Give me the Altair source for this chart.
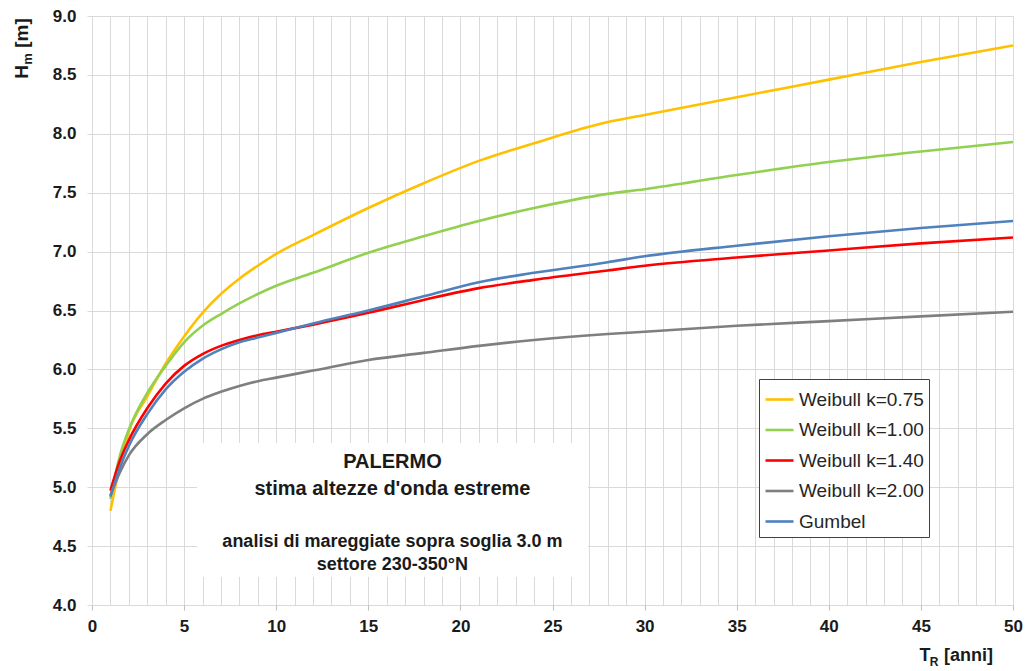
import altair as alt
import pandas as pd

# Return period T_R [anni]
T = [1, 1.5, 2, 3, 4, 5, 6, 7, 8, 9, 10, 12, 15, 18, 21, 24, 28, 30, 35, 40, 45, 50]

# Estimated wave heights H_m [m] for each distribution
weibull_075 = [4.80, 5.17, 5.47, 5.77, 6.05, 6.28, 6.48, 6.64, 6.77, 6.88, 6.98, 7.14, 7.37, 7.58, 7.77, 7.92, 8.10, 8.16, 8.31, 8.46, 8.61, 8.75]
weibull_100 = [4.90, 5.26, 5.49, 5.80, 6.03, 6.23, 6.37, 6.47, 6.56, 6.64, 6.71, 6.82, 6.99, 7.13, 7.26, 7.37, 7.49, 7.53, 7.65, 7.76, 7.85, 7.93]
weibull_140 = [4.97, 5.22, 5.40, 5.67, 5.88, 6.03, 6.13, 6.20, 6.25, 6.29, 6.32, 6.38, 6.48, 6.59, 6.69, 6.76, 6.84, 6.88, 6.95, 7.01, 7.07, 7.12]
weibull_200 = [4.93, 5.12, 5.27, 5.45, 5.57, 5.67, 5.75, 5.81, 5.86, 5.90, 5.93, 5.99, 6.08, 6.14, 6.20, 6.25, 6.30, 6.32, 6.37, 6.41, 6.45, 6.49]
gumbel = [4.92, 5.16, 5.35, 5.62, 5.83, 5.98, 6.09, 6.17, 6.23, 6.27, 6.31, 6.39, 6.50, 6.62, 6.74, 6.82, 6.91, 6.96, 7.05, 7.13, 7.20, 7.26]

series_names = ["Weibull k=0.75", "Weibull k=1.00", "Weibull k=1.40", "Weibull k=2.00", "Gumbel"]
series_values = [weibull_075, weibull_100, weibull_140, weibull_200, gumbel]
series_colors = ["#FFC000", "#92D050", "#FF0000", "#7F7F7F", "#4F81BD"]

# Axis ticks
x_ticks = list(range(0, 51))
y_ticks = [4.0, 4.5, 5.0, 5.5, 6.0, 6.5, 7.0, 7.5, 8.0, 8.5, 9.0]

# Annotation box (data units) and its lines of text
box_x = [5.70, 26.93]
box_y = [4.24, 5.375]
note_x = 16.31
note_lines = ["PALERMO", "stima altezze d'onda estreme",
              "analisi di mareggiate sopra soglia 3.0 m", "settore 230-350°N"]
note_y = [5.214, 4.985, 4.535, 4.34]
note_size = [20, 20, 18, 18]

FONT = "Liberation Sans"
GRID = "#d9d9d9"

rows = []
for name, vals in zip(series_names, series_values):
    for t, h in zip(T, vals):
        rows.append({"T": t, "H": h, "serie": name, "ordine": series_names.index(name)})
df = pd.DataFrame(rows)

x_scale = alt.Scale(domain=[0, 50], nice=False)
y_scale = alt.Scale(domain=[4.0, 9.0], nice=False, zero=False)

x_axis = alt.Axis(
    values=x_ticks, format="d", title=None, grid=True, gridColor=GRID, gridWidth=1,
    domain=False, tickColor="#bfbfbf", tickSize=5,
    tickOpacity={"condition": {"test": "datum.value % 5 === 0", "value": 1}, "value": 0},
    labelExpr="datum.value % 5 === 0 ? datum.label : ''",
    labelFont=FONT, labelFontSize=17, labelFontWeight="bold", labelColor="#1a1a1a",
    labelPadding=8, labelOverlap=False, labelFlush=False,
)
y_axis = alt.Axis(
    values=y_ticks, format=".1f", title=None, grid=True, gridColor=GRID, gridWidth=1,
    domain=False, tickColor=GRID, tickSize=5,
    labelFont=FONT, labelFontSize=17, labelFontWeight="bold", labelColor="#1a1a1a",
    labelPadding=11, labelOverlap=False, labelFlush=False,
)

box = alt.Chart(pd.DataFrame({"x1": [box_x[0]], "x2": [box_x[1]],
                              "y1": [box_y[0]], "y2": [box_y[1]]})).mark_rect(
    color="white"
).encode(
    x=alt.X("x1:Q", scale=x_scale, axis=x_axis),
    x2="x2:Q",
    y=alt.Y("y1:Q", scale=y_scale, axis=y_axis),
    y2="y2:Q",
)

lines = alt.Chart(df).mark_line(strokeWidth=2.6, interpolate="monotone").encode(
    x=alt.X("T:Q", scale=x_scale, axis=x_axis),
    y=alt.Y("H:Q", scale=y_scale, axis=y_axis),
    color=alt.Color(
        "serie:N",
        scale=alt.Scale(domain=series_names, range=series_colors),
        legend=alt.Legend(
            title=None, orient="none", legendX=667, legendY=363,
            symbolType="stroke", symbolSize=784, symbolStrokeWidth=2.6,
            labelFont=FONT, labelFontSize=19, labelColor="#262626", labelOffset=4,
            labelLimit=300, rowPadding=4.5, padding=5,
            fillColor="white", strokeColor="#404040",
        ),
    ),
    order="ordine:Q",
    detail="serie:N",
)

notes_df = pd.DataFrame({"x": [note_x] * len(note_lines), "y": note_y,
                         "testo": note_lines, "size": note_size})
notes = alt.Chart(notes_df).mark_text(
    font=FONT, fontWeight="bold", color="#1a1a1a", align="center", baseline="middle"
).encode(
    x=alt.X("x:Q", scale=x_scale, axis=x_axis),
    y=alt.Y("y:Q", scale=y_scale, axis=y_axis),
    text="testo:N",
    size=alt.Size("size:Q", scale=None, legend=None),
)

# Axis titles with subscripts, placed outside the plot area
def label(text, x, y, size, angle=0, align="center", baseline="middle"):
    return alt.Chart(pd.DataFrame({"t": [text]})).mark_text(
        font=FONT, fontWeight="bold", fontSize=size, color="#1a1a1a",
        angle=angle, align=align, baseline=baseline,
    ).encode(x=alt.value(x), y=alt.value(y), text="t:N")

y_title = [
    label("H", -70, 56, 19, angle=270),
    label("m", -64, 43, 13, angle=270),
    label("[m]", -70, 17, 19, angle=270),
]
x_title = [
    label("T", 833, 645, 18, baseline="alphabetic"),
    label("R", 842, 650, 12, baseline="alphabetic"),
    label("[anni]", 852, 645, 18, align="left", baseline="alphabetic"),
]

chart = alt.layer(box, lines, notes, *y_title, *x_title).properties(
    width=921, height=589,
    autosize=alt.AutoSizeParams(type="none"),
    padding={"left": 92, "top": 16, "right": 16, "bottom": 66},
).configure_view(stroke=None).configure_legend(strokeWidth=1.5).configure(background="white")

chart.save("out.html", embed_options={"renderer": "svg", "actions": False})
